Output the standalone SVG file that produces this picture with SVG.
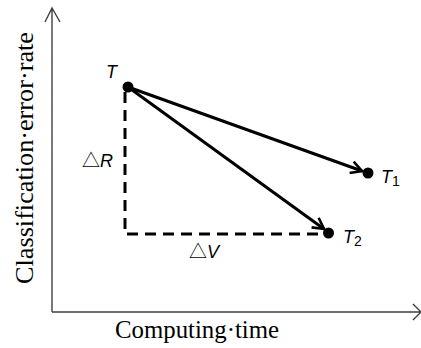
<svg xmlns="http://www.w3.org/2000/svg" width="421" height="348" viewBox="0 0 421 348">
<defs>
<style>
.axis{stroke:#404040;stroke-width:1.4;fill:none}
.dash{stroke:#000;stroke-width:3;stroke-dasharray:11 7;fill:none}
.arr{stroke:#000;stroke-width:3;fill:none}
.lbl{font-family:"Liberation Sans",Arial,sans-serif;font-size:18px;fill:#000}
.it{font-style:italic}
.tri{font-family:"Noto Sans CJK SC",sans-serif;font-size:18px}
.ax{font-family:"Liberation Serif","Times New Roman",serif;font-size:25px;fill:#000}
</style>
<marker id="chev" viewBox="0 0 14 14" refX="12" refY="7" markerWidth="14" markerHeight="14" markerUnits="userSpaceOnUse" orient="auto">
<path d="M1,1 L12,7 L1,13" stroke="#000" stroke-width="2.6" fill="none"/>
</marker>
</defs>
<g id="axes">
<path class="axis" d="M52,312 V9 M45,22 L52,8 L60,22"/>
<path class="axis" d="M52,312 H420 M413,304 L421,312 L413,320"/>
<text class="ax" transform="translate(33,158) rotate(-90)" text-anchor="middle" textLength="252" lengthAdjust="spacingAndGlyphs">Classification·error·rate</text>
<text class="ax" x="115" y="338" textLength="164" lengthAdjust="spacingAndGlyphs">Computing·time</text>
</g>
<g id="connectors">
<path class="dash" d="M125,92 V234 H322"/>
<line class="arr" x1="128" y1="87" x2="362" y2="171" marker-end="url(#chev)"/>
<line class="arr" x1="128" y1="87" x2="324" y2="229" marker-end="url(#chev)"/>
</g>
<g id="nodeT">
<circle cx="128" cy="87" r="5.5" fill="#000"/>
<text class="lbl it" x="106" y="78">T</text>
</g>
<g id="nodeT1">
<circle cx="368" cy="173" r="5.5" fill="#000"/>
<text class="lbl" x="381" y="183"><tspan class="it">T</tspan><tspan font-size="14" dy="3">1</tspan></text>
</g>
<g id="nodeT2">
<circle cx="328.5" cy="233" r="5.5" fill="#000"/>
<text class="lbl" x="343" y="243"><tspan class="it">T</tspan><tspan font-size="14" dy="3">2</tspan></text>
</g>
<g id="labelR">
<text class="lbl" x="82" y="167"><tspan class="tri">△</tspan><tspan class="it">R</tspan></text>
</g>
<g id="labelV">
<text class="lbl" x="189" y="258"><tspan class="tri">△</tspan><tspan class="it">V</tspan></text>
</g>
</svg>
